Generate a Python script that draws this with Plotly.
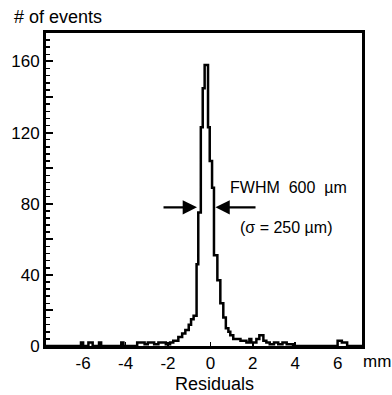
import plotly.graph_objects as go

# Histogram of residuals (bin edges in mm, counts per bin)
bin_edges = [-7.75, -6.1, -6.0, -5.75, -5.55, -5.25, -5.15, -4.2, -4.1, -3.45,
             -3.1, -2.95, -2.65, -2.45, -2.1, -1.9, -1.75, -1.51, -1.33, -1.18,
             -1.02, -0.91, -0.79, -0.65, -0.57, -0.45, -0.36, -0.27, -0.11, -0.03,
             0.08, 0.17, 0.33, 0.47, 0.61, 0.73, 0.85, 0.94, 1.08, 1.42,
             1.7, 1.84, 1.93, 2.17, 2.31, 2.5, 2.64, 2.8, 3.0, 3.2,
             3.4, 3.6, 3.9, 6.0, 6.2, 6.45, 7.15]
counts = [0, 2, 0, 2, 0, 2, 0, 2, 0, 2,
          1, 2, 1, 2, 1, 2, 3, 5, 7, 9,
          12, 15, 17, 46, 75, 123, 145, 158, 123, 104,
          89, 51, 37, 24, 16, 10, 8, 6, 4, 3,
          2, 4, 2, 4, 6, 3, 2, 1, 2, 1,
          2, 1, 0, 3, 2, 0]
assert len(counts) == len(bin_edges) - 1

x_tick_vals = [-6, -4, -2, 0, 2, 4, 6]
x_tick_text = ["-6", "-4", "-2", "0", "2", "4", "6"]
y_tick_vals = [0, 20, 40, 60, 80, 100, 120, 140, 160]
y_tick_text = ["0", "", "40", "", "80", "", "120", "", "160"]

# FWHM arrows: (tail x, tip x) at height arrow_y
arrow_y = 78
left_arrow = (-2.28, -0.63)
right_arrow = (2.2, 0.24)

FONT = "Liberation Sans, Arial, Helvetica, sans-serif"

fig = go.Figure()
fig.add_trace(go.Scatter(
    x=bin_edges,
    y=counts + [counts[-1]],
    mode="lines",
    line=dict(shape="hv", color="black", width=2.5),
    hoverinfo="skip",
    showlegend=False,
))

annotations = [
    dict(text="# of events", xref="paper", yref="paper", x=-0.108, y=1.051,
         xanchor="left", yanchor="middle", showarrow=False, font=dict(size=18)),
    dict(text="Residuals", xref="paper", yref="paper", x=0.532, y=-0.1214,
         xanchor="center", yanchor="middle", showarrow=False, font=dict(size=18)),
    dict(text="mm", xref="paper", yref="paper", x=1.046, y=-0.051,
         xanchor="center", yanchor="middle", showarrow=False, font=dict(size=17)),
    dict(text="FWHM\u00a0\u00a0600\u00a0\u00a0µm", xref="x", yref="y", x=0.85, y=89.3,
         xanchor="left", yanchor="middle", showarrow=False, font=dict(size=16)),
    dict(text="(σ = 250 µm)", xref="x", yref="y", x=1.32, y=66.9,
         xanchor="left", yanchor="middle", showarrow=False, font=dict(size=16)),
]
for tail, tip in (left_arrow, right_arrow):
    annotations.append(dict(
        text="", x=tip, y=arrow_y, ax=tail, ay=arrow_y,
        xref="x", yref="y", axref="x", ayref="y",
        showarrow=True, arrowhead=2, arrowsize=1.3, arrowwidth=2.2,
        arrowcolor="black", standoff=0, startstandoff=0,
    ))

fig.update_layout(
    width=392, height=395,
    margin=dict(l=46, r=30, t=33, b=49),
    paper_bgcolor="white", plot_bgcolor="white",
    font=dict(family=FONT, color="black", size=17),
    annotations=annotations,
    showlegend=False,
)
fig.update_xaxes(
    range=[-7.75, 7.15], showgrid=False, zeroline=False,
    showline=True, linecolor="black", linewidth=3, mirror=True,
    ticks="inside", ticklen=4, tickwidth=1.5, tickcolor="black",
    tickvals=x_tick_vals, ticktext=x_tick_text,
    tickfont=dict(size=17),
)
fig.update_yaxes(
    range=[0, 176], showgrid=False, zeroline=False,
    showline=True, linecolor="black", linewidth=3, mirror=True,
    ticks="inside", ticklen=7, tickwidth=2, tickcolor="black",
    tickvals=y_tick_vals, ticktext=y_tick_text,
    minor=dict(dtick=4, ticks="inside", ticklen=4, tickwidth=1.5, tickcolor="black"),
    tickfont=dict(size=17),
)

fig.write_html(
    "out.html",
    config={"displayModeBar": False, "staticPlot": True},
    post_script="document.body.style.margin='0';document.body.style.overflow='hidden';",
)
